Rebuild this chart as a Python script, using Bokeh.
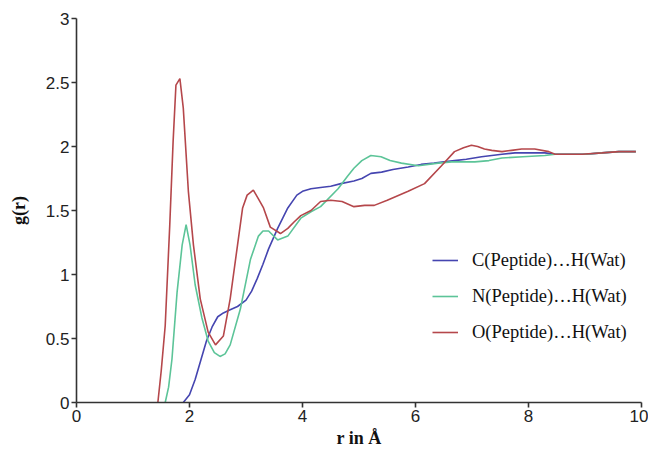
from bokeh.plotting import figure
from bokeh.models import FixedTicker, Legend, LegendItem
from bokeh.embed import file_html
from bokeh.resources import INLINE

# C(Peptide)...H(Wat)
c_r = [1.89, 2.0, 2.1, 2.2, 2.3, 2.4, 2.5, 2.6, 2.7, 2.85, 3.0, 3.1, 3.2, 3.3, 3.4, 3.56, 3.74, 3.9, 4.0, 4.15, 4.32, 4.5, 4.68,
       4.91, 5.05, 5.21, 5.4, 5.6, 5.87, 6.1, 6.33, 6.5, 6.69, 6.9, 7.17, 7.35, 7.53, 7.76, 8.0, 8.29, 8.47, 8.7, 9.0,
       9.3, 9.6, 9.9]
c_g = [0.0, 0.06, 0.18, 0.33, 0.48, 0.59, 0.67, 0.7, 0.72, 0.75, 0.8, 0.87, 0.97, 1.08, 1.2, 1.36, 1.52, 1.62, 1.65, 1.67, 1.68, 1.69, 1.71,
       1.73, 1.75, 1.79, 1.8, 1.82, 1.84, 1.86, 1.87, 1.88, 1.89, 1.9, 1.92, 1.93, 1.94, 1.95, 1.95, 1.95, 1.94, 1.94, 1.94,
       1.95, 1.96, 1.96]

# N(Peptide)...H(Wat)
n_r = [1.57, 1.63, 1.69, 1.78, 1.87, 1.94, 2.01, 2.1, 2.22, 2.33, 2.44, 2.54, 2.63, 2.72, 2.9, 3.08, 3.22, 3.3, 3.4, 3.56, 3.74,
       3.97, 4.15, 4.32, 4.63, 4.8, 4.91, 5.05, 5.21, 5.39, 5.55, 5.75, 6.05, 6.4, 6.64, 7.05, 7.3, 7.53, 7.9, 8.29,
       8.47, 8.7, 9.0, 9.3, 9.6, 9.9]
n_g = [0.0, 0.12, 0.34, 0.86, 1.23, 1.39, 1.23, 0.92, 0.66, 0.48, 0.39, 0.36, 0.38, 0.45, 0.73, 1.12, 1.3, 1.34, 1.34, 1.27, 1.3,
       1.44, 1.49, 1.53, 1.67, 1.77, 1.83, 1.89, 1.93, 1.92, 1.89, 1.87, 1.85, 1.87, 1.88, 1.88, 1.89, 1.91, 1.92, 1.93,
       1.94, 1.94, 1.94, 1.95, 1.96, 1.96]

# O(Peptide)...H(Wat)
o_r = [1.44, 1.5, 1.57, 1.65, 1.71, 1.76, 1.83, 1.89, 1.98, 2.07, 2.19, 2.33, 2.46, 2.6, 2.72, 2.85, 2.94, 3.02, 3.13, 3.22, 3.31,
       3.43, 3.61, 3.74, 3.85, 3.97, 4.15, 4.32, 4.5, 4.7, 4.91, 5.1, 5.27, 5.5, 5.87, 6.16, 6.46, 6.69, 6.85, 6.99,
       7.1, 7.22, 7.35, 7.53, 7.7, 7.88, 8.11, 8.36, 8.47, 8.7, 8.95, 9.3, 9.6, 9.9]
o_g = [0.0, 0.25, 0.6, 1.38, 2.04, 2.48, 2.53, 2.3, 1.65, 1.23, 0.81, 0.55, 0.45, 0.52, 0.81, 1.23, 1.52, 1.62, 1.66, 1.59, 1.52,
       1.37, 1.32, 1.36, 1.41, 1.46, 1.5, 1.57, 1.58, 1.57, 1.53, 1.54, 1.54, 1.58, 1.65, 1.71, 1.85, 1.96, 1.99, 2.01,
       2.0, 1.98, 1.97, 1.96, 1.97, 1.98, 1.98, 1.96, 1.94, 1.94, 1.94, 1.95, 1.96, 1.96]

names = ["C(Peptide)…H(Wat)", "N(Peptide)…H(Wat)", "O(Peptide)…H(Wat)"]
colors = ["#4545b0", "#5cc498", "#b5474b"]

x_ticks = [0, 2, 4, 6, 8, 10]
x_tick_labels = ["0", "2", "4", "6", "8", "10"]
y_ticks = [0, 0.5, 1, 1.5, 2, 2.5, 3]
y_tick_labels = ["0", "0.5", "1", "1.5", "2", "2.5", "3"]

p = figure(width=648, height=451, x_range=(0, 10), y_range=(0, 3),
           output_backend="svg", toolbar_location=None,
           min_border_left=76, min_border_right=7, min_border_top=18, min_border_bottom=49)
p.outline_line_color = None
p.xgrid.visible = False
p.ygrid.visible = False

renderers = []
for xs, ys, col in zip([c_r, n_r, o_r], [c_g, n_g, o_g], colors):
    r = p.line(xs, ys, line_color=col, line_width=1.6)
    renderers.append(r)

legend = Legend(items=[LegendItem(label=n, renderers=[r]) for n, r in zip(names, renderers)],
                location=(356, 59), border_line_color=None, background_fill_alpha=0,
                padding=0, margin=0, spacing=14, glyph_height=22, glyph_width=26,
                label_standoff=14, label_text_font="Liberation Serif",
                label_text_font_size="18.5px", label_text_color="#111")
p.add_layout(legend)

for ax, ticks, labels in [(p.xaxis[0], x_ticks, x_tick_labels), (p.yaxis[0], y_ticks, y_tick_labels)]:
    ax.ticker = FixedTicker(ticks=ticks)
    ax.major_label_overrides = {t: l for t, l in zip(ticks, labels)}
    ax.minor_tick_line_color = None
    ax.major_tick_in = 0
    ax.major_tick_out = 5
    ax.axis_line_color = "#333333"
    ax.axis_line_width = 1.6
    ax.major_tick_line_color = "#333333"
    ax.major_tick_line_width = 1.6
    ax.major_label_text_font = "Liberation Sans"
    ax.major_label_text_font_size = "17px"
    ax.major_label_text_color = "#222222"
    ax.axis_label_text_font = "Liberation Serif"
    ax.axis_label_text_font_style = "bold"
    ax.axis_label_text_font_size = "18px"
    ax.axis_label_text_color = "#111111"

p.xaxis.axis_label = "r in Å"
p.yaxis.axis_label = "g(r)"
p.xaxis.major_label_standoff = 2
p.xaxis.axis_label_standoff = 3
p.yaxis.major_label_standoff = 2
p.yaxis.axis_label_standoff = 14

open("out.html", "w").write(file_html(p, INLINE))
